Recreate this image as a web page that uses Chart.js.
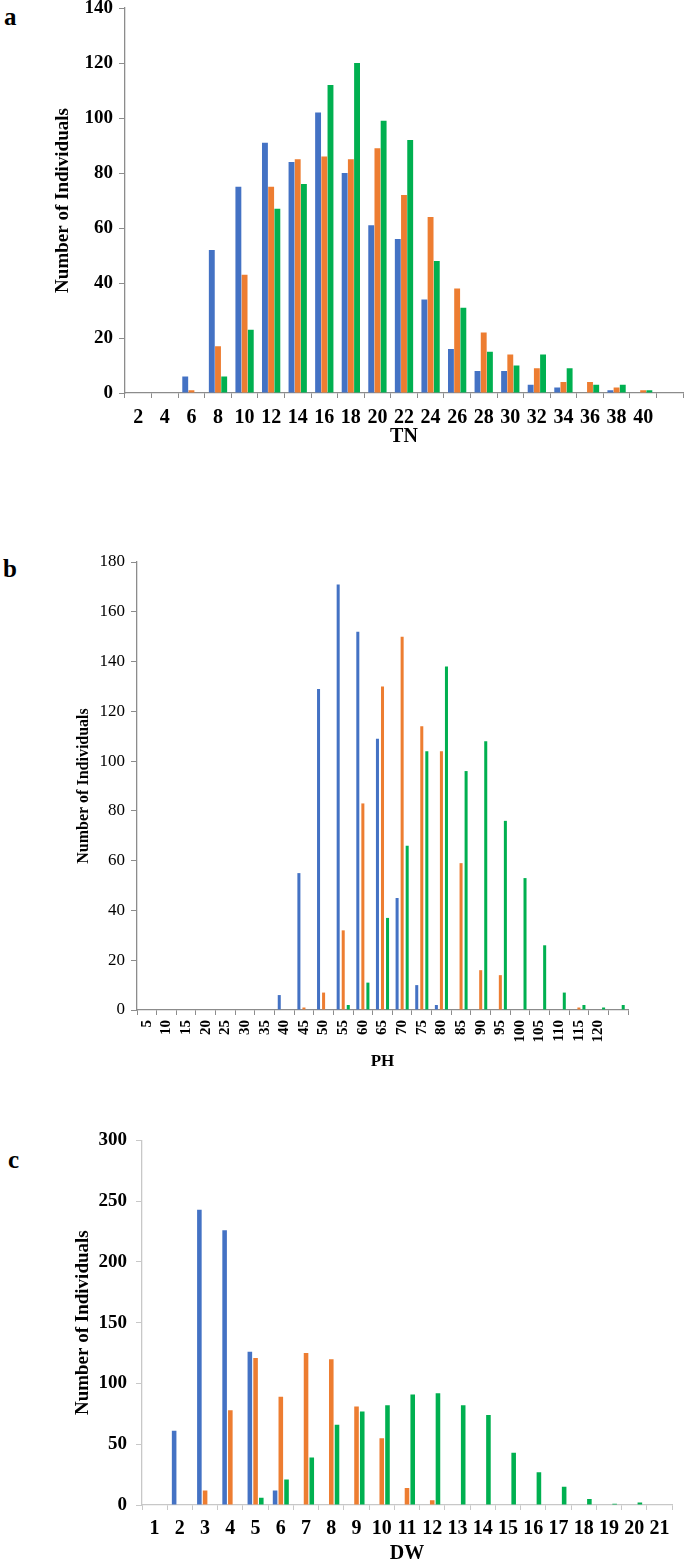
<!DOCTYPE html>
<html>
<head>
<meta charset="utf-8">
<script src="https://cdn.jsdelivr.net/npm/chart.js@4/dist/chart.umd.min.js"></script>
<style>
  body { margin: 0; width: 685px; height: 1566px; position: relative; overflow: hidden; background: #fff; }
  .panel { position: absolute; font-family: "Liberation Serif", serif; font-weight: bold; font-size: 25px; color: #000; }
  canvas { position: absolute; left: 0; }
</style>
</head>
<body>
<div class="panel" style="left:4px;top:3px">a</div>
<div class="panel" style="left:3px;top:555px">b</div>
<div class="panel" style="left:8px;top:1146px">c</div>

<canvas id="chartTN" style="top:-12px" width="685" height="462"></canvas>
<canvas id="chartPH" style="top:545px" width="685" height="535"></canvas>
<canvas id="chartDW" style="top:1120px" width="685" height="446"></canvas>

<script>
// Panel a - TN (last slot is empty, as in the original axis)
const tnLabels = ['2','4','6','8','10','12','14','16','18','20','22','24','26','28','30','32','34','36','38','40',''];
const tnBlue   = [0,0,6,52,75,91,84,102,80,61,56,34,16,8,8,3,2,0,1,0,0];
const tnOrange = [0,0,1,17,43,75,85,86,85,89,72,64,38,22,14,9,4,4,2,1,0];
const tnGreen  = [0,0,0,6,23,67,76,112,120,99,92,48,31,15,10,14,9,3,3,1,0];

// Panel b - PH
const phLabels = ['5','10','15','20','25','30','35','40','45','50','55','60','65','70','75','80','85','90','95','100','105','110','115','120',''];
const phBlue   = [0,0,0,0,0,0,0,6,55,129,171,152,109,45,10,2,0,0,0,0,0,0,0,0,0];
const phOrange = [0,0,0,0,0,0,0,0,1,7,32,83,130,150,114,104,59,16,14,0,0,0,1,0,0];
const phGreen  = [0,0,0,0,0,0,0,0,0,0,2,11,37,66,104,138,96,108,76,53,26,7,2,1,2];

// Panel c - DW
const dwLabels = ['1','2','3','4','5','6','7','8','9','10','11','12','13','14','15','16','17','18','19','20','21'];
const dwBlue   = [0,61,243,226,126,12,0,0,0,0,0,0,0,0,0,0,0,0,0,0,0];
const dwOrange = [0,0,12,78,121,89,125,120,81,55,14,4,0,0,0,0,0,0,0,0,0];
const dwGreen  = [0,0,0,0,6,21,39,66,77,82,91,92,82,74,43,27,15,5,1,2,0];

const BLUE = '#4472C4';
const ORANGE = '#ED7D31';
const GREEN = '#00B050';
const SERIF = '"Liberation Serif", "Times New Roman", serif';

function makeChart(id, labels, blue, orange, green, o) {
    const data = {
        labels: labels,
        datasets: [
            { data: blue, backgroundColor: BLUE },
            { data: orange, backgroundColor: ORANGE },
            { data: green, backgroundColor: GREEN },
        ]
    };
    data.datasets.forEach(ds => {
        ds.categoryPercentage = o.catPct;
        ds.barPercentage = o.barPct;
        ds.borderWidth = 0;
    });

    const config = {
        type: 'bar',
        data: data,
        options: {
            responsive: false,
            animation: false,
            layout: { padding: { top: o.padTop, right: o.padRight, left: 0, bottom: 0 } },
            plugins: { legend: { display: false }, tooltip: { enabled: false } },
            scales: {
                x: {
                    grid: { drawOnChartArea: false, drawTicks: true, tickLength: 5, color: o.axisColor },
                    border: { color: o.axisColor, width: 1.3 },
                    ticks: {
                        autoSkip: false,
                        maxRotation: o.rotate, minRotation: o.rotate,
                        padding: o.xTickPad,
                        color: '#000',
                        font: o.xTickFont
                    },
                    title: {
                        display: true, text: o.xTitle, color: '#000',
                        font: o.xTitleFont, padding: { top: 0, bottom: o.xTitlePad }
                    },
                    afterFit: s => { s.height = o.xHeight; }
                },
                y: {
                    min: 0, max: o.yMax,
                    grid: { drawOnChartArea: false, drawTicks: true, tickLength: 6, color: o.axisColor },
                    border: { color: o.axisColor, width: 1.3 },
                    ticks: { stepSize: o.yStep, padding: o.yTickPad, color: '#000', font: o.yTickFont },
                    title: {
                        display: true, text: 'Number of Individuals', color: '#000',
                        font: o.yTitleFont, padding: { top: o.yTitlePad, bottom: 0 }
                    },
                    afterFit: s => { s.width = o.yWidth; }
                }
            }
        }
    };
    return new Chart(document.getElementById(id), config);
}

makeChart('chartTN', tnLabels, tnBlue, tnOrange, tnGreen, {
    catPct: 0.7, barPct: 0.95,
    padTop: 20, padRight: 2, yWidth: 125, xHeight: 57,
    yMax: 140, yStep: 20, axisColor: '#8c8c8c', rotate: 0,
    xTickPad: 8, yTickPad: 6,
    xTickFont: { family: SERIF, size: 20, weight: 'bold' },
    yTickFont: { family: SERIF, size: 19, weight: 'bold' },
    xTitle: 'TN', xTitleFont: { family: SERIF, size: 20, weight: 'bold' }, xTitlePad: 1,
    yTitleFont: { family: SERIF, size: 19, weight: 'bold' }, yTitlePad: 52
});

makeChart('chartPH', phLabels, phBlue, phOrange, phGreen, {
    catPct: 0.77, barPct: 0.6,
    padTop: 17, padRight: 57, yWidth: 137, xHeight: 70,
    yMax: 180, yStep: 20, axisColor: '#8c8c8c', rotate: 90,
    xTickPad: 5, yTickPad: 6,
    xTickFont: { family: SERIF, size: 15, weight: 'bold' },
    yTickFont: { family: SERIF, size: 17 },
    xTitle: 'PH', xTitleFont: { family: SERIF, size: 17, weight: 'bold' }, xTitlePad: 8,
    yTitleFont: { family: SERIF, size: 16, weight: 'bold' }, yTitlePad: 74
});

makeChart('chartDW', dwLabels, dwBlue, dwOrange, dwGreen, {
    catPct: 0.68, barPct: 0.8,
    padTop: 20, padRight: 13, yWidth: 142, xHeight: 61,
    yMax: 300, yStep: 50, axisColor: '#c8c8c8', rotate: 0,
    xTickPad: 7, yTickPad: 9,
    xTickFont: { family: SERIF, size: 20, weight: 'bold' },
    yTickFont: { family: SERIF, size: 19, weight: 'bold' },
    xTitle: 'DW', xTitleFont: { family: SERIF, size: 20, weight: 'bold' }, xTitlePad: 0,
    yTitleFont: { family: SERIF, size: 19, weight: 'bold' }, yTitlePad: 72
});
</script>
</body>
</html>
